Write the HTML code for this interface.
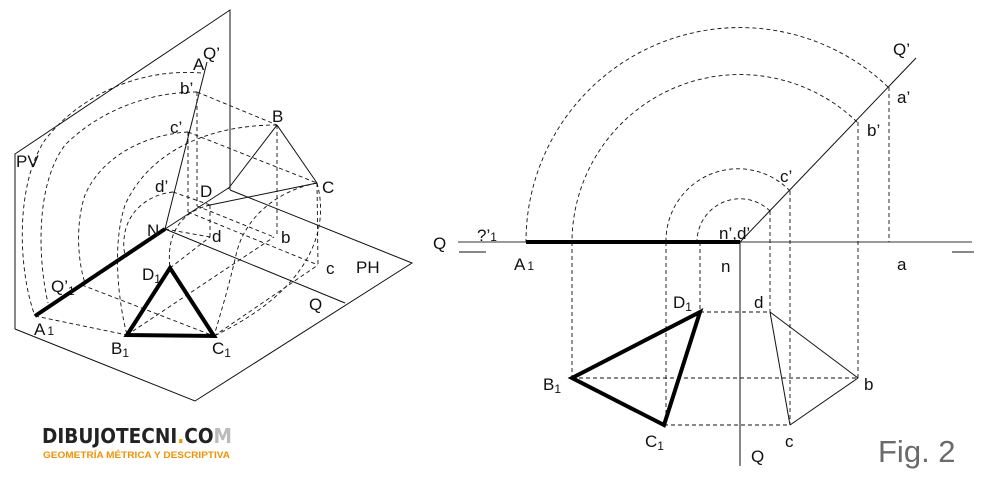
<!DOCTYPE html>
<html><head><meta charset="utf-8"><style>
html,body{margin:0;padding:0;background:#fff}
svg{display:block}
text{font-family:"Liberation Sans",sans-serif;fill:#111}
</style></head><body>
<svg width="991" height="486" viewBox="0 0 991 486" xmlns="http://www.w3.org/2000/svg">
<g fill="none" stroke="#111" stroke-width="1">
<polyline points="15,329 15,154 230,10 230,190"/>
<polyline points="15,329 195,401 412,263 230,190"/>
<line x1="165" y1="229" x2="230" y2="187"/>
<line x1="165" y1="229" x2="345" y2="303"/>
<line x1="165" y1="229" x2="207" y2="62"/>
<line x1="277" y1="125" x2="228" y2="189"/>
<line x1="277" y1="125" x2="317" y2="183"/>
<line x1="317" y1="183" x2="210" y2="205"/>
</g>
<g fill="none" stroke="#111" stroke-width="0.9" stroke-dasharray="4,3">
<path d="M201,73 C140,68 80,95 45,140 C15,185 18,270 35,316"/>
<path d="M197,92 C150,92 100,110 65,145 C35,185 38,260 48,303"/>
<path d="M188,132 C140,135 100,160 85,195 C75,225 78,262 85,283"/>
<path d="M173,192 C145,195 125,215 124,240 C123,250 125,255 127,257"/>
<path d="M277,125 C210,125 150,150 125,205 C112,245 118,300 127,335"/>
<path d="M317,183 C280,190 245,215 236,255 C228,290 220,315 214,336"/>
<path d="M317,183 C330,230 310,290 214,336"/>
<path d="M210,205 C180,212 166,235 170,268"/>
<line x1="197" y1="92" x2="277" y2="125"/>
<line x1="188" y1="132" x2="317" y2="183"/>
<line x1="173" y1="192" x2="210" y2="205"/>
<line x1="197" y1="92" x2="197" y2="206"/>
<line x1="188" y1="132" x2="188" y2="212"/>
<line x1="277" y1="125" x2="277" y2="237"/>
<line x1="317" y1="183" x2="318" y2="265"/>
<line x1="210" y1="205" x2="210" y2="237"/>
<line x1="197" y1="206" x2="274" y2="237"/>
<line x1="188" y1="212" x2="318" y2="265"/>
<line x1="165" y1="229" x2="210" y2="237"/>
<line x1="35" y1="316" x2="127" y2="335"/>
<line x1="82" y1="285" x2="214" y2="336"/>
<line x1="214" y1="336" x2="318" y2="265"/>
<line x1="127" y1="335" x2="274" y2="237"/>
<line x1="170" y1="268" x2="210" y2="237"/>
</g>
<g fill="none" stroke="#000" stroke-width="4">
<line x1="35" y1="316" x2="165" y2="229"/>
<polygon points="170,268 127,335 214,336"/>
</g>
<g font-size="17">
<text x="16" y="167">PV</text>
<text x="193" y="70">A</text>
<text x="203" y="59">Q’</text>
<text x="180" y="94">b’</text>
<text x="170" y="133">c’</text>
<text x="155" y="192">d’</text>
<text x="272" y="122">B</text>
<text x="322" y="193">C</text>
<text x="200" y="197">D</text>
<text x="147" y="236">N</text>
<text x="212" y="242">d</text>
<text x="281" y="243">b</text>
<text x="326" y="274">c</text>
<text x="356" y="273">PH</text>
<text x="309" y="310">Q</text>
<text x="142" y="280">D<tspan font-size="12" dy="3">1</tspan></text>
<text x="51" y="292">Q’<tspan font-size="12" dy="3">1</tspan></text>
<text x="34" y="335">A<tspan font-size="12" dx="2">1</tspan></text>
<text x="111" y="354">B<tspan font-size="12" dy="3">1</tspan></text>
<text x="212" y="354">C<tspan font-size="12" dy="3">1</tspan></text>
</g>
<g fill="none" stroke="#111" stroke-width="1">
<line x1="458" y1="242" x2="972" y2="242" stroke="#333"/>
<line x1="459" y1="252" x2="486" y2="252"/>
<line x1="952" y1="252" x2="974" y2="252"/>
<line x1="740" y1="242" x2="916" y2="58"/>
<line x1="740" y1="242" x2="740" y2="466"/>
<line x1="770" y1="312" x2="858" y2="378"/>
<line x1="858" y1="378" x2="790" y2="425"/>
<line x1="770" y1="312" x2="790" y2="425"/>
</g>
<g fill="none" stroke="#111" stroke-width="0.9" stroke-dasharray="4,3">
<path d="M888,87 A214,214 0 0 0 526,242"/>
<path d="M857,122 A168,168 0 0 0 572,242"/>
<path d="M790,191 A72,72 0 0 0 666,242"/>
<path d="M770,211 A43,43 0 0 0 697,242"/>
<line x1="572" y1="242" x2="572" y2="378"/>
<line x1="666" y1="242" x2="666" y2="425"/>
<line x1="700" y1="242" x2="700" y2="312"/>
<line x1="770" y1="211" x2="770" y2="312"/>
<line x1="790" y1="191" x2="790" y2="425"/>
<line x1="858" y1="122" x2="858" y2="378"/>
<line x1="889" y1="87" x2="889" y2="242"/>
<line x1="700" y1="312" x2="770" y2="312"/>
<line x1="572" y1="378" x2="858" y2="378"/>
<line x1="664" y1="425" x2="790" y2="425"/>
</g>
<g fill="none" stroke="#000" stroke-width="4">
<line x1="526" y1="242" x2="740" y2="242"/>
<polygon points="700,312 572,378 664,425"/>
</g>
<g font-size="17">
<text x="433" y="249">Q</text>
<text x="477" y="241">?’<tspan font-size="12">1</tspan></text>
<text x="514" y="270">A<tspan font-size="12" dx="2">1</tspan></text>
<text x="721" y="272">n</text>
<text x="719" y="239">n’,d’</text>
<text x="897" y="270">a</text>
<text x="780" y="182">c’</text>
<text x="867" y="136">b’</text>
<text x="897" y="103">a’</text>
<text x="893" y="55">Q’</text>
<text x="673" y="308">D<tspan font-size="12" dy="3">1</tspan></text>
<text x="754" y="308">d</text>
<text x="543" y="390">B<tspan font-size="12" dy="3">1</tspan></text>
<text x="864" y="390">b</text>
<text x="645" y="447">C<tspan font-size="12" dy="3">1</tspan></text>
<text x="785" y="447">c</text>
<text x="751" y="462">Q</text>
</g>
<text x="878" y="462" font-size="31" style="fill:#6a6a6a;font-family:'Liberation Sans',sans-serif">Fig. 2</text>
<text x="42" y="443" font-size="20" font-weight="bold" style="fill:#222;font-family:'DejaVu Sans Condensed','Liberation Sans',sans-serif" textLength="190" lengthAdjust="spacingAndGlyphs">DIBUJOTECNI<tspan style="fill:#f39200">.</tspan>CO<tspan style="fill:#bbb">M</tspan></text>
<text x="43" y="458" font-size="9.5" font-weight="bold" style="fill:#f39200" textLength="187" lengthAdjust="spacingAndGlyphs">GEOMETRÍA MÉTRICA Y DESCRIPTIVA</text>
</svg>
</body></html>
